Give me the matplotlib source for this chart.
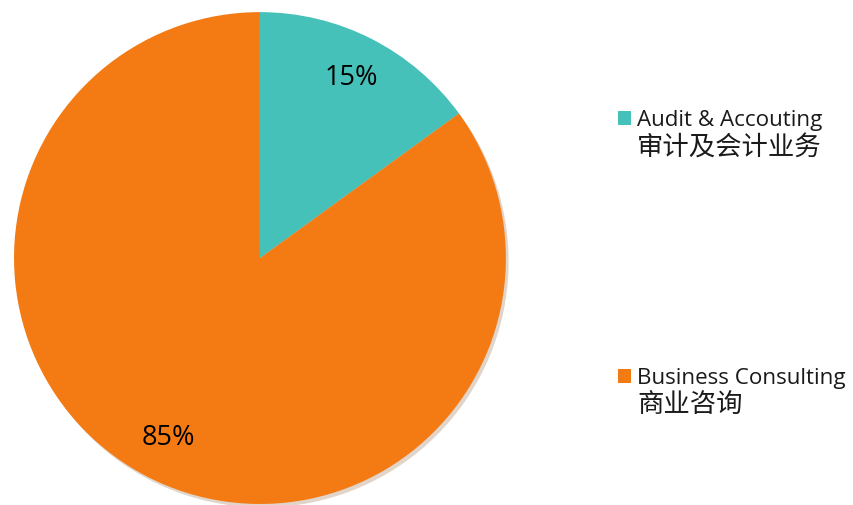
import matplotlib.pyplot as plt

plt.rcParams['font.family'] = ['Open Sans', 'Noto Sans CJK SC', 'DejaVu Sans']

labels_en = ['Audit & Accouting', 'Business Consulting']
labels_cn = ['审计及会计业务', '商业咨询']
values = [15, 85]
colors = ['#45C1B9', '#F47B14']

fig = plt.figure(figsize=(8.54, 5.05), dpi=100)
ax = fig.add_axes([0.0164, 0.002, 0.576, 0.974])

wedges, texts, autotexts = ax.pie(values, colors=colors, startangle=90, counterclock=False,
                                  autopct='%d%%', pctdistance=0.82,
                                  wedgeprops={'linewidth': 0},
                                  shadow={'ox': 0.008, 'oy': -0.01, 'shade': 0.5, 'alpha': 0.22},
                                  textprops={'fontsize': 19.5, 'color': 'black'})
ax.set_aspect('equal')
ax.set_xlim(-1.0, 1.0)
ax.set_ylim(-1.0, 1.0)
ax.axis('off')

leg = fig.legend(wedges, labels_en, loc='upper left', bbox_to_anchor=(0.724, 0.782),
                 frameon=False, fontsize=16.1, labelspacing=10.6,
                 borderpad=0, borderaxespad=0,
                 handlelength=0.57, handleheight=0.57, handletextpad=0.28)
for t, cn in zip(leg.get_texts(), labels_cn):
    t.set_color('#1a1a1a')
    # chinese line under each legend label
    fig.add_artist(plt.Annotation(cn, xy=(0, 0), xycoords=t, xytext=(0, -2),
                                  textcoords='offset points', ha='left', va='top',
                                  fontsize=19, color='#1a1a1a',
                                  family=['Noto Sans CJK SC', 'DejaVu Sans']))

fig.canvas.draw()
fig.savefig('out.png', dpi=100)
